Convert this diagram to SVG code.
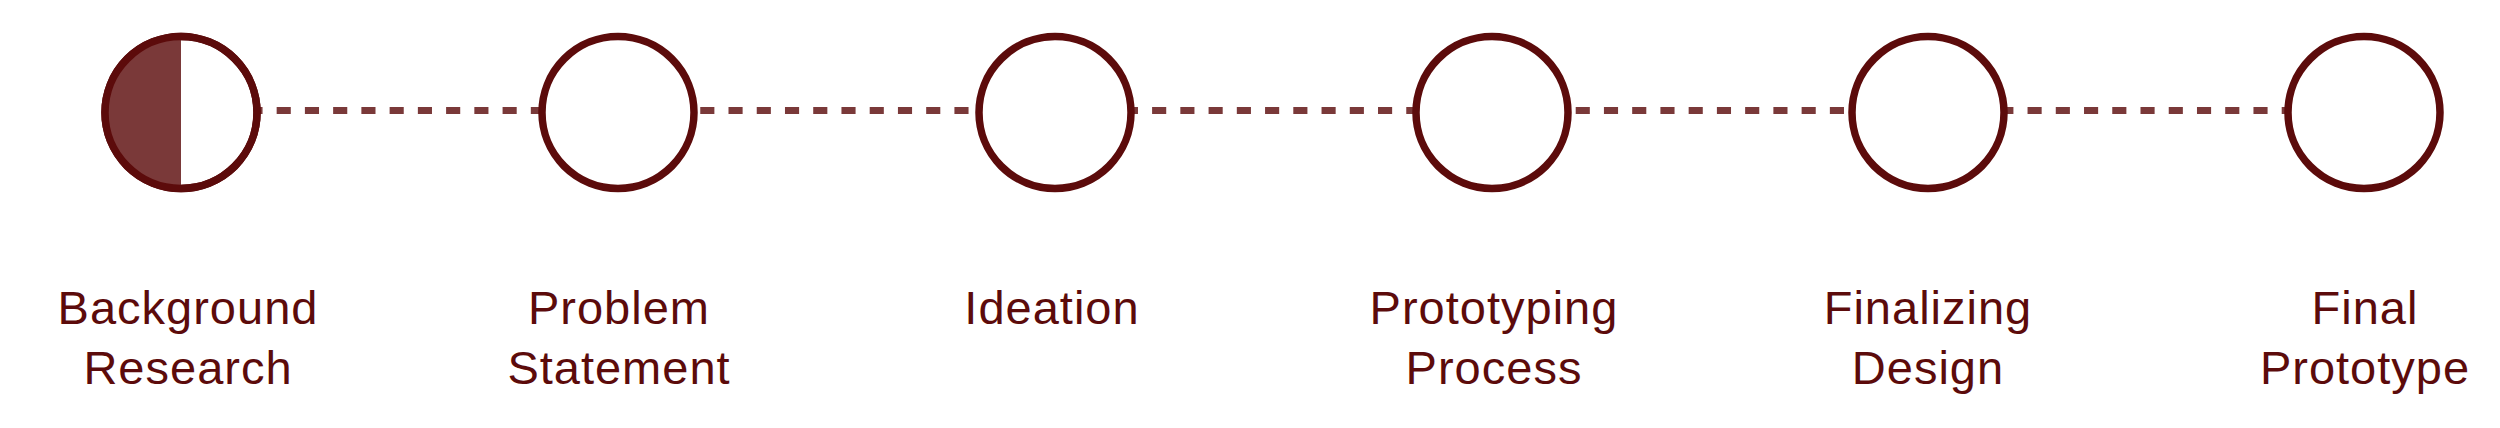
<svg xmlns="http://www.w3.org/2000/svg" width="2500" height="428" viewBox="0 0 2500 428">
<style>
.node circle{fill:#ffffff;stroke:#5c0b0b;stroke-width:7.5}
.half{fill:#7a3939}
.lbl{font-family:"Liberation Sans",Arial,sans-serif;font-size:47px;letter-spacing:1px;fill:#5c0b0b;text-anchor:middle}
.conn{stroke:#7a3939;stroke-width:7;stroke-dasharray:14.12 14.12;fill:none}
</style>
<rect width="2500" height="428" fill="#ffffff"/>
<g id="connectors">
<line class="conn" x1="163.7" y1="110.5" x2="2364" y2="110.5"/>
</g>
<g id="node1" class="node">
<circle cx="181" cy="112.5" r="76"/>
<path class="half" d="M181,36.5 A76,76 0 0 0 181,188.5 Z"/>
<circle cx="181" cy="112.5" r="76" style="fill:none"/>
<text class="lbl" x="188" y="324">Background</text>
<text class="lbl" x="188" y="384">Research</text>
</g>
<g id="node2" class="node">
<circle cx="618" cy="112.5" r="76"/>
<text class="lbl" x="619" y="324">Problem</text>
<text class="lbl" x="619" y="384">Statement</text>
</g>
<g id="node3" class="node">
<circle cx="1055" cy="112.5" r="76"/>
<text class="lbl" x="1052" y="324">Ideation</text>
</g>
<g id="node4" class="node">
<circle cx="1492" cy="112.5" r="76"/>
<text class="lbl" x="1494" y="324">Prototyping</text>
<text class="lbl" x="1494" y="384">Process</text>
</g>
<g id="node5" class="node">
<circle cx="1928" cy="112.5" r="76"/>
<text class="lbl" x="1928" y="324">Finalizing</text>
<text class="lbl" x="1928" y="384">Design</text>
</g>
<g id="node6" class="node">
<circle cx="2364" cy="112.5" r="76"/>
<text class="lbl" x="2365" y="324">Final</text>
<text class="lbl" x="2365" y="384">Prototype</text>
</g>
</svg>
